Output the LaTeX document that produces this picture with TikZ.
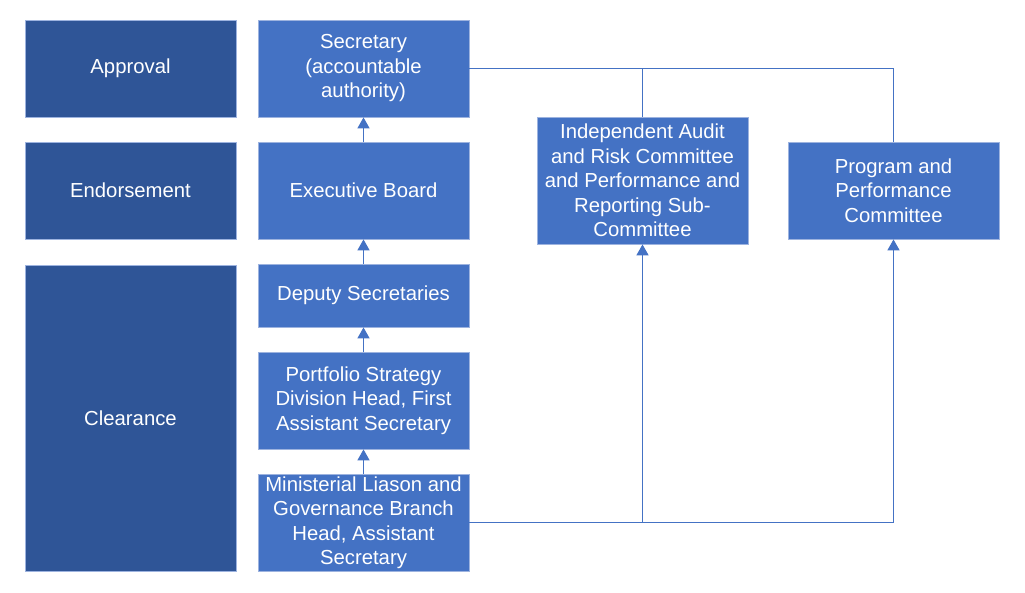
\documentclass[tikz,border=0pt]{standalone}
\usepackage{fontspec}
\setmainfont{Liberation Sans}
\usetikzlibrary{arrows.meta}
\definecolor{boxblue}{HTML}{4472C4}
\definecolor{darkblue}{HTML}{2F5597}
\definecolor{edge}{HTML}{9DB3DF}
\begin{document}
\begin{tikzpicture}[x=1pt,y=-1pt,
  box/.style={draw=edge,line width=0.8pt,fill=boxblue,text=white,align=center,
    inner sep=0pt,minimum width=211pt,font=\fontsize{20.3}{24.5}\selectfont},
  lbox/.style={box,fill=darkblue},
  conn/.style={draw=boxblue,line width=1.6pt},
  arr/.style={conn,-{Triangle[width=12pt,length=11pt]}}]
\useasboundingbox (0,0) rectangle (1025,592);
% left column
\node[lbox,minimum height=97pt] (appr) at (130.5,68.5) {Approval};
\node[lbox,minimum height=97pt] (endo) at (130.5,190.5) {Endorsement};
\node[lbox,minimum height=306pt] (clear) at (130.5,418) {Clearance};
% middle column
\node[box,minimum height=97pt] (sec) at (363.5,68.5) {Secretary\\(accountable\\authority)};
\node[box,minimum height=97pt] (exec) at (363.5,190.5) {Executive Board};
\node[box,minimum height=63pt] (dep) at (363.5,295.5) {Deputy Secretaries};
\node[box,minimum height=97pt] (port) at (363.5,400.5) {Portfolio Strategy\\Division Head, First\\Assistant Secretary};
\node[box,minimum height=97pt] (min) at (363.5,522.5) {Ministerial Liason and\\Governance Branch\\Head, Assistant\\Secretary};
% right committees
\node[box,minimum height=127pt] (audit) at (642.5,180.5) {Independent Audit\\and Risk Committee\\and Performance and\\Reporting Sub-\\Committee};
\node[box,minimum height=97pt] (prog) at (893.5,190.5) {Program and\\Performance\\Committee};
% vertical chain
\draw[arr] (min.north) -- (port.south);
\draw[arr] (port.north) -- (dep.south);
\draw[arr] (dep.north) -- (exec.south);
\draw[arr] (exec.north) -- (sec.south);
% top connectors
\draw[conn] (sec.east) -- (sec.east -| prog.north) -- (prog.north);
\draw[conn] (audit.north) -- (audit.north |- sec.east);
% bottom connectors
\draw[conn] (min.east) -- (min.east -| prog.south);
\draw[arr] (min.east -| prog.south) -- (prog.south);
\draw[arr] (min.east -| audit.south) -- (audit.south);
\end{tikzpicture}
\end{document}
